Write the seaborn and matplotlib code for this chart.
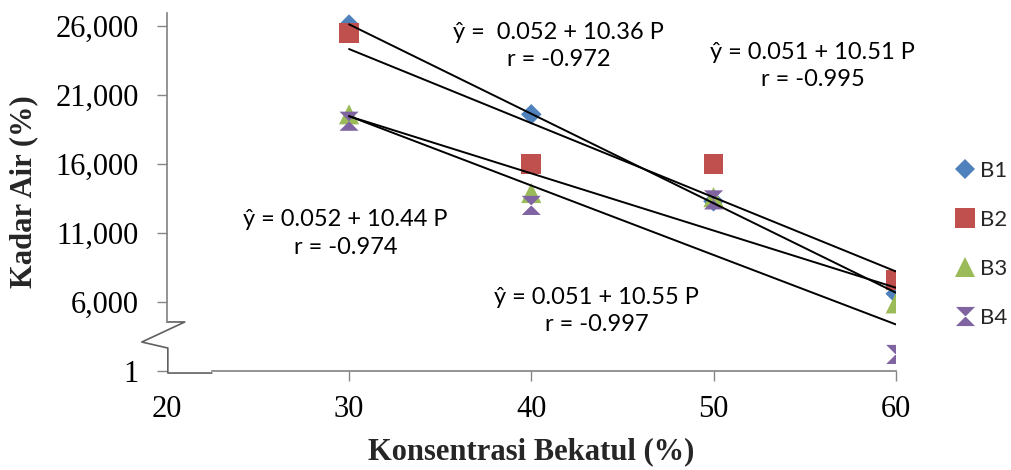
import numpy as np
import pandas as pd
import matplotlib
matplotlib.use("Agg")
import matplotlib.pyplot as plt
from matplotlib.markers import MarkerStyle
import seaborn as sns

# values (y in %)
konsentrasi = [30, 40, 50, 60]
b1 = [26.1, 19.6, 13.3, 6.6]
b2 = [25.5, 16.0, 16.0, 7.6]
b3 = [19.6, 13.9, 13.6, 5.9]
b4 = [19.1, 13.0, 13.4, 2.2]
series_names = ["B1", "B2", "B3", "B4"]

x_ticks = [20, 30, 40, 50, 60]
y_ticks = [1, 6, 11, 16, 21, 26]
y_tick_labels = ["1", "6,000", "11,000", "16,000", "21,000", "26,000"]

equations = [
    "ŷ =  0.052 + 10.36 P\nr = -0.972",
    "ŷ = 0.051 + 10.51 P\nr = -0.995",
    "ŷ = 0.052 + 10.44 P\nr = -0.974",
    "ŷ = 0.051 + 10.55 P\nr = -0.997",
]
eq_pos = [(41.5, 24.55), (55.45, 23.1), (29.8, 10.95), (43.6, 5.35)]

sns.set_theme(style="white")
plt.rcParams["font.family"] = ["Liberation Serif", "DejaVu Serif"]

df = pd.DataFrame({
    "Konsentrasi": konsentrasi * 4,
    "Kadar": b1 + b2 + b3 + b4,
    "Perlakuan": np.repeat(series_names, len(konsentrasi)),
})

palette = {"B1": "#4F81BD", "B2": "#C0504D", "B3": "#9BBB59", "B4": "#8064A2"}
hourglass = MarkerStyle([(-1, -1), (1, -1), (-1, 1), (1, 1), (-1, -1)])
markers = {"B1": "D", "B2": "s", "B3": "^", "B4": hourglass}
sizes = {"B1": 110, "B2": 200, "B3": 210, "B4": 190}

fig = plt.figure(figsize=(10.11, 4.70), dpi=100)
ax = fig.add_axes([0.165, 0.2106, 0.721, 0.7617])

sns.scatterplot(data=df, x="Konsentrasi", y="Kadar", hue="Perlakuan",
                style="Perlakuan", size="Perlakuan", palette=palette,
                markers=markers, sizes=sizes, linewidth=0, ax=ax, zorder=2)

# linear trend lines, one per series
for name in series_names:
    sub = df[df["Perlakuan"] == name]
    sns.regplot(data=sub, x="Konsentrasi", y="Kadar", scatter=False, ci=None,
                color="black", line_kws={"lw": 1.4, "zorder": 3}, ax=ax)

ax.set_xlim(20, 60)
ax.set_ylim(1, 26.94)
ax.set_xticks(x_ticks)
ax.set_yticks(y_ticks)
ax.set_yticklabels(y_tick_labels)

axis_col = "#868686"
for s in ["top", "right"]:
    ax.spines[s].set_visible(False)
ax.spines["left"].set_color(axis_col)
ax.spines["bottom"].set_color(axis_col)
ax.spines["left"].set_bounds(4.55, 26.94)
ax.spines["bottom"].set_bounds(22.47, 60)
ax.tick_params(axis="both", colors=axis_col, labelcolor="black",
               labelsize=22, length=7, width=1, direction="out")
ax.tick_params(axis="y", pad=13, left=True)
ax.tick_params(axis="x", pad=10, bottom=True)
# no tick mark at 20 (sits on the axis break)
ax.xaxis.get_major_ticks()[0].tick1line.set_visible(False)

# axis break mark
zx = [0, 0.0247, -0.0343, 0.0014, 0.0014, 0.0617]
zy = [0.137, 0.137, 0.081, 0.0642, -0.0056, -0.0056]
ax.plot(zx, zy, transform=ax.transAxes, color="#606060", lw=1.2, clip_on=False)

ax.set_xlabel("Konsentrasi Bekatul (%)", fontsize=22, fontweight="bold")
ax.set_ylabel("Kadar Air (%)", fontsize=22, fontweight="bold")
ax.xaxis.set_label_coords(0.5, -0.185)
ax.yaxis.set_label_coords(-0.176, 0.5)

for txt, (ex, ey) in zip(equations, eq_pos):
    ax.text(ex, ey, txt, ha="center", va="center", multialignment="center",
            fontsize=17, family=["Lato", "DejaVu Sans"], linespacing=1.4,
            color="black", zorder=4)

leg = ax.get_legend()
handles = leg.legend_handles
labels = [t.get_text() for t in leg.get_texts()]
leg.remove()
ax.legend(handles, labels, loc="center left", bbox_to_anchor=(0.944, 0.48),
          bbox_transform=fig.transFigure, frameon=False, handletextpad=0.15,
          labelspacing=1.3, handlelength=1.0, borderaxespad=0, borderpad=0,
          prop={"family": ["Lato", "DejaVu Sans"], "size": 16})

fig.savefig("out.png", dpi=100)
